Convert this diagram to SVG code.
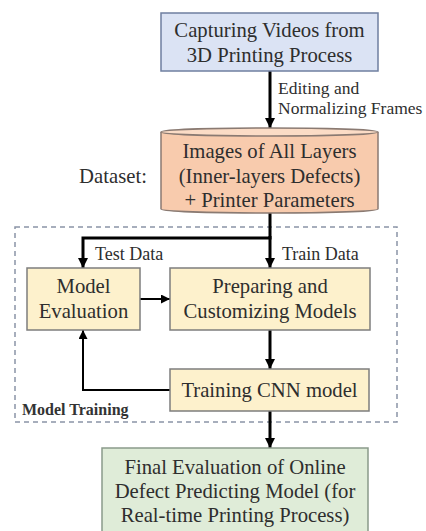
<svg xmlns="http://www.w3.org/2000/svg" width="426" height="531" viewBox="0 0 426 531">
<defs>
<style>
.t{font-family:'Liberation Serif',Tinos,'Times New Roman','DejaVu Serif',serif;font-size:20.7px;fill:#2e2e2e;text-anchor:middle}
.l{font-family:'Liberation Serif',Tinos,'Times New Roman','DejaVu Serif',serif;font-size:18px;fill:#2e2e2e}
.e{font-size:17.5px}
.thick{stroke:#000;stroke-width:3;fill:none}
.thin{stroke:#000;stroke-width:2;fill:none}
</style>
<marker id="ah" viewBox="0 0 10 10" refX="10" refY="5" markerWidth="3.4" markerHeight="3.4" markerUnits="strokeWidth" orient="auto"><path d="M0,0 L10,5 L0,10 z" fill="#000"/></marker>
<marker id="ahs" viewBox="0 0 10 10" refX="10" refY="5" markerWidth="4.5" markerHeight="4.5" markerUnits="strokeWidth" orient="auto"><path d="M0,0 L10,5 L0,10 z" fill="#000"/></marker>
</defs>
<rect width="426" height="531" fill="#fff"/>
<g id="modelTrainingGroup">
<rect x="15" y="227" width="382" height="195" fill="none" stroke="#8a94a6" stroke-width="1.5" stroke-dasharray="5,4"/>
<text x="22" y="415" font-family="'Liberation Serif',Tinos,'Times New Roman',serif" font-size="16" font-weight="bold" fill="#333">Model Training</text>
</g>
<g id="connectors">
<line class="thick" x1="270" y1="71" x2="270" y2="128" marker-end="url(#ah)"/>
<text class="l e" x="278" y="94">Editing and</text>
<text class="l e" x="278" y="114">Normalizing Frames</text>
<polyline class="thick" points="270,213 270,238 83,238 83,268" marker-end="url(#ah)"/>
<line class="thick" x1="270" y1="236" x2="270" y2="268" marker-end="url(#ah)"/>
<text class="l" x="95" y="260">Test Data</text>
<text class="l" x="282" y="260">Train Data</text>
<line class="thin" x1="140" y1="299" x2="170" y2="299" marker-end="url(#ahs)"/>
<line class="thick" x1="270" y1="330" x2="270" y2="369" marker-end="url(#ah)"/>
<polyline class="thin" points="170,390 83,390 83,330" marker-end="url(#ahs)"/>
<line class="thick" x1="270" y1="411" x2="270" y2="448" marker-end="url(#ah)"/>
</g>
<g id="capture">
<rect x="161" y="13" width="217" height="58" fill="#dbe3f4" stroke="#6f7fa0" stroke-width="1.5"/>
<text class="t" x="269.5" y="37">Capturing Videos from</text>
<text class="t" x="269.5" y="62">3D Printing Process</text>
</g>
<g id="dataset">
<path d="M161,132 L161,209 A108.5,4 0 0 0 378,209 L378,132" fill="#f8cbad" stroke="#8a7a72" stroke-width="1.5"/>
<ellipse cx="269.5" cy="132" rx="108.5" ry="4" fill="#fbdcc6" stroke="#8a7a72" stroke-width="1.5"/>
<text class="t" x="269.5" y="158">Images of All Layers</text>
<text class="t" x="269.5" y="183">(Inner-layers Defects)</text>
<text class="t" x="269.5" y="207">+ Printer Parameters</text>
<text class="t" x="113" y="183">Dataset:</text>
</g>
<g id="modelEval">
<rect x="27" y="268" width="113" height="62" fill="#fdf1cc" stroke="#7d7d7d" stroke-width="1.5"/>
<text class="t" x="83.5" y="293">Model</text>
<text class="t" x="83.5" y="318">Evaluation</text>
</g>
<g id="preparing">
<rect x="170" y="268" width="200" height="62" fill="#fdf1cc" stroke="#7d7d7d" stroke-width="1.5"/>
<text class="t" x="270" y="293">Preparing and</text>
<text class="t" x="270" y="318">Customizing Models</text>
</g>
<g id="training">
<rect x="170" y="369" width="199" height="42" fill="#fdf1cc" stroke="#7d7d7d" stroke-width="1.5"/>
<text class="t" x="269.5" y="397">Training CNN model</text>
</g>
<g id="final">
<rect x="102" y="448" width="266" height="90" fill="#dfecd8" stroke="#8a9a8a" stroke-width="1.5"/>
<text class="t" x="235" y="474">Final Evaluation of Online</text>
<text class="t" x="235" y="498">Defect Predicting Model (for</text>
<text class="t" x="235" y="522">Real-time Printing Process)</text>
</g>
</svg>
